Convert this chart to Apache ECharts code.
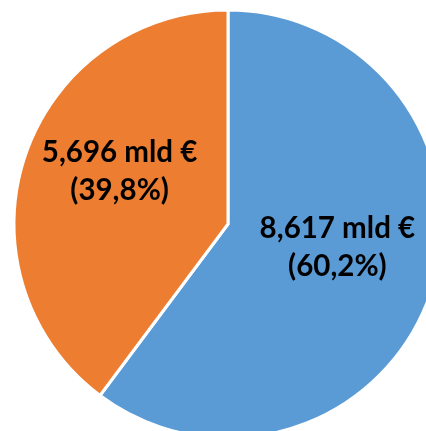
<!DOCTYPE html>
<html>
<head>
<meta charset="utf-8">
<script src="https://cdn.jsdelivr.net/npm/echarts@6/dist/echarts.min.js"></script>
<style>
  html, body { margin: 0; padding: 0; background: #fff; }
  #chart { width: 426px; height: 431px; }
</style>
</head>
<body>
<div id="chart"></div>
<script>
// Valori (mld €) e percentuali
const categories = ['Blu', 'Arancione'];
const values = [8.617, 5.696];
const valueLabels = ['8,617 mld €', '5,696 mld €'];
const percentLabels = ['(60,2%)', '(39,8%)'];
const colors = ['#5B9BD5', '#ED7D31'];
const labelOffsets = [[5, -11], [-4, -18]];

var dom = document.getElementById('chart');
var myChart = echarts.init(dom, null, { renderer: 'canvas' });

var option = {
    animation: false,
    series: [
        {
            type: 'pie',
            center: [228, 224],
            radius: 214,
            startAngle: 90,
            clockwise: true,
            silent: true,
            itemStyle: {
                borderColor: '#ffffff',
                borderWidth: 3
            },
            label: {
                show: true,
                position: 'inside',
                fontFamily: 'Lato',
                fontWeight: 'bold',
                fontSize: 29.5,
                lineHeight: 38,
                color: '#000000',
                align: 'center'
            },
            labelLine: { show: false },
            data: values.map((v, i) => ({
                name: categories[i],
                value: v,
                itemStyle: { color: colors[i] },
                label: {
                    formatter: valueLabels[i] + '\n' + percentLabels[i],
                    offset: labelOffsets[i]
                }
            }))
        }
    ]
};

myChart.setOption(option);
</script>
</body>
</html>
